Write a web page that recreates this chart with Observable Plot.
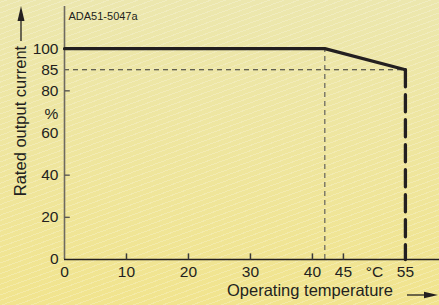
<!DOCTYPE html>
<html>
<head>
<meta charset="utf-8">
<script src="https://cdn.jsdelivr.net/npm/d3@7"></script>
<script src="https://cdn.jsdelivr.net/npm/@observablehq/plot@0.6"></script>
<style>
  html, body { margin: 0; padding: 0; }
  body {
    width: 439px; height: 305px; overflow: hidden;
    background:
      repeating-linear-gradient(-20deg, rgba(255,255,255,0) 0px, rgba(255,255,255,0) 4px, rgba(255,255,255,0.22) 4px, rgba(255,255,255,0.22) 5px),
      linear-gradient(to bottom, #ECE7AE, #F1E48E);
  }
  #chart svg { display: block; }
</style>
</head>
<body>
<div id="chart"></div>
<script>
// Derating curve
const temperature = [0, 42, 55];
const current = [100, 100, 85];
// cut-off at 55 °C
const cutoffTemp = [55, 55];
const cutoffCurrent = [85, 0];
// guide lines
const kneeTemp = 42;
const deratedCurrent = 85;
const maxTemp = 55;

const xTickLabels = [0, 10, 20, 30, 40, 45, 55];
const xTickMarks = [10, 20, 30, 40, 45];
const xUnit = {label: "°C", at: 50};
const yTickLabels = [0, 20, 40, 60, 80, 85, 100];
const yTickMarks = [20, 40, 80];
const yUnit = {label: "%", at: 69};
const codeLabel = "ADA51-5047a";
const xTitle = "Operating temperature";
const yTitle = "Rated output current";

// the original drawing stretches the 80–100 band unevenly (85 sits higher than linear)
const yBreaks = [0, 80, 85, 100, 120];
const yDrawn = [0, 80, 90, 100, 120];
const warp = d3.scaleLinear().domain(yBreaks).range(yDrawn);

const curve = temperature.map((t, i) => ({t, c: current[i]}));
const cutoff = cutoffTemp.map((t, i) => ({t, c: cutoffCurrent[i]}));

const ink = "#231f20";
const font = 15.5;
const titleFont = 16.5;
// tick lengths in axis units (~6px and ~5px)
const xTickLen = 2.9;
const yTickLen = 0.85;

const chart = Plot.plot({
  width: 439,
  height: 305,
  marginLeft: 64,
  marginRight: 0,
  marginTop: 6,
  marginBottom: 46,
  style: {background: "transparent", fontFamily: "'Liberation Sans', Arial, sans-serif", color: ink},
  x: {domain: [0, 60.5], axis: null},
  y: {domain: [0, 120], transform: warp, axis: null},
  marks: [
    // guides
    Plot.ruleY([deratedCurrent], {x1: 0, x2: maxTemp, y: d => d, stroke: "#333", strokeWidth: 1.1, strokeDasharray: "5,4"}),
    Plot.ruleX([kneeTemp], {x: d => d, y1: 0, y2: 100, stroke: "#555", strokeWidth: 1.1, strokeDasharray: "5,4"}),
    // axes
    Plot.ruleX([0], {x: d => d, stroke: "#6e6a60", strokeWidth: 1.6}),
    Plot.ruleY([0], {y: d => d, stroke: ink, strokeWidth: 1.6}),
    Plot.link(xTickMarks, {x1: d => d, x2: d => d, y1: 0, y2: xTickLen, stroke: "#3a3a3a", strokeWidth: 1.5}),
    Plot.link(yTickMarks, {y1: d => d, y2: d => d, x1: 0, x2: yTickLen, stroke: "#5a5750", strokeWidth: 1.4}),
    // curve
    Plot.line(cutoff, {x: "t", y: "c", stroke: ink, strokeWidth: 3.3, strokeDasharray: "17,8"}),
    Plot.line(curve, {x: "t", y: "c", stroke: ink, strokeWidth: 3.2, strokeLinejoin: "miter"}),
    // tick labels
    Plot.text(xTickLabels, {x: d => d, y: 0, text: d => String(d), dy: 13, fontSize: font, fill: ink}),
    Plot.text([xUnit], {x: "at", y: 0, text: "label", dy: 13, fontSize: font, fill: ink}),
    Plot.text(yTickLabels, {x: 0, y: d => d, text: d => String(d), dx: -6, textAnchor: "end", fontSize: font, fill: ink}),
    Plot.text([yUnit], {x: 0, y: "at", text: "label", dx: -13, textAnchor: "middle", fontSize: font, fill: ink}),
    // titles
    Plot.text([codeLabel], {frameAnchor: "top-left", text: d => d, dx: 4, dy: 6, fontSize: 11, fill: ink}),
    Plot.text([xTitle], {frameAnchor: "bottom", text: d => d, textAnchor: "middle", dx: 58, dy: 36, fontSize: titleFont, fill: ink}),
    Plot.text([yTitle], {frameAnchor: "left", text: d => d, textAnchor: "middle", rotate: -90, dx: -44, dy: -12, fontSize: titleFont, fill: ink})
  ]
});

// axis-title arrows
const svg = d3.select(chart);
const g = svg.append("g").attr("fill", ink).attr("stroke", ink);
g.append("line").attr("x1", 21).attr("x2", 21).attr("y1", 41).attr("y2", 18).attr("stroke-width", 1.3);
g.append("path").attr("d", "M21,6 L24.5,21 L17.5,21 Z").attr("stroke", "none");
g.append("line").attr("x1", 407).attr("x2", 428).attr("y1", 295).attr("y2", 295).attr("stroke-width", 1.3);
g.append("path").attr("d", "M438,295 L424,291.8 L424,298.2 Z").attr("stroke", "none");

document.getElementById("chart").appendChild(chart);
</script>
</body>
</html>
